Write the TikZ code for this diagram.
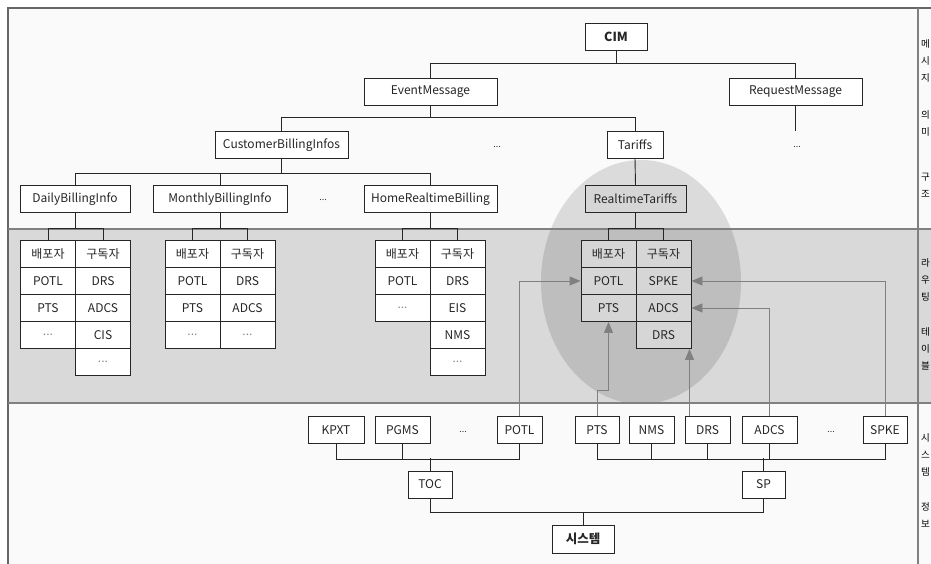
\documentclass[tikz,border=0pt]{standalone}
\usepackage{fontspec}
\setmainfont{Noto Sans CJK KR}
\usetikzlibrary{arrows.meta}
\newcommand{\nd}{\textcolor{black!45}{...}}

\begin{document}
\begin{tikzpicture}[x=1pt,y=-1pt,
  box/.style={draw=black!85,fill=white,line width=0.9pt,minimum height=27pt,
    inner sep=0pt,text=black!85,font=\fontsize{12}{14}\selectfont},
  cell/.style={box,minimum width=55pt},
  rcell/.style={cell,fill=black!16},
  link/.style={draw=black!85,line width=0.9pt},
  arr/.style={draw=black!50,line width=0.9pt,-{Triangle[length=11pt,width=9pt]}},
  dots/.style={font=\fontsize{9}{10}\selectfont,text=black!80},
  side/.style={font=\fontsize{9.5}{11}\selectfont,text=black,inner sep=0pt}]
\clip (0,0) rectangle (931,564);

% panels
\fill[white!98!black] (8,8) rectangle (931,564);
\fill[black!15] (8,229) rectangle (931,403);
\fill[black,fill opacity=0.12] (641,282) ellipse [x radius=100,y radius=122];
\draw[black!60,line width=1.3pt] (8,564) -- (8,8) -- (931,8);
\draw[black!50,line width=1.3pt] (8,229) -- (931,229) (8,403) -- (931,403) (918,8) -- (918,564);

% side column
\foreach \c/\y [count=\i] in {메/44,시/61,지/78,의/115,미/132,구/177,조/194,
    라/263,우/280,팅/297,테/332,이/349,블/366,
    시/438,스/455,템/472,정/507,보/524}
  \node[side] (side\i) at (925.5,\y) {\c};

% message tree
\node[box,minimum width=62pt,font=\fontsize{12.5}{14}\selectfont\bfseries] (cim) at (616,36.5) {CIM};
\node[box,minimum width=133pt] (event) at (430.5,91.5) {EventMessage};
\node[box,minimum width=133pt] (request) at (795.5,91.5) {RequestMessage};
\node[box,minimum width=133pt] (custbill) at (281.5,145) {CustomerBillingInfos};
\node[dots] (dotsA) at (497,147) {...};
\node[box,minimum width=56pt] (tariffs) at (635,144.5) {Tariffs};
\node[dots] (dotsB) at (797,147) {...};
\node[box,minimum width=110pt] (daily) at (75,199) {DailyBillingInfo};
\node[box,minimum width=134pt] (monthly) at (220,199) {MonthlyBillingInfo};
\node[dots] (dotsC) at (323,200) {...};
\node[box,minimum width=133pt] (home) at (430.5,199) {HomeRealtimeBilling};
\node[box,minimum width=101pt,fill=black!16] (rtariffs) at (635.5,199) {RealtimeTariffs};

\draw[link] (cim.south) -- ++(0,13) coordinate (c1);
\draw[link] (event.north) |- (c1) -| (request.north);
\draw[link] (request.south) -- ++(0,26);
\draw[link] (event.south) -- ++(0,12) coordinate (c2);
\draw[link] (custbill.north) |- (c2) -| (tariffs.north);
\draw[link] (custbill.south) -- ++(0,15) coordinate (c3);
\draw[link] (daily.north) |- (c3) -| (home.north);
\draw[link] (monthly.north) -- (monthly.north |- c3);
\draw[link] (tariffs.south) -- (rtariffs.north);

% routing tables
\foreach \t [count=\i] in {배포자,POTL,PTS,\nd}
  \node[cell] (da\i) at (48,{254+27*(\i-1)}) {\t};
\foreach \t [count=\i] in {구독자,DRS,ADCS,CIS,\nd}
  \node[cell] (db\i) at (103,{254+27*(\i-1)}) {\t};
\foreach \t [count=\i] in {배포자,POTL,PTS,\nd}
  \node[cell] (ma\i) at (192.5,{254+27*(\i-1)}) {\t};
\foreach \t [count=\i] in {구독자,DRS,ADCS,\nd}
  \node[cell] (mb\i) at (247.5,{254+27*(\i-1)}) {\t};
\foreach \t [count=\i] in {배포자,POTL,\nd}
  \node[cell] (ha\i) at (402.5,{254+27*(\i-1)}) {\t};
\foreach \t [count=\i] in {구독자,DRS,EIS,NMS,\nd}
  \node[cell] (hb\i) at (457.5,{254+27*(\i-1)}) {\t};
\foreach \t [count=\i] in {배포자,POTL,PTS}
  \node[rcell] (ra\i) at (608.5,{254+27*(\i-1)}) {\t};
\foreach \t [count=\i] in {구독자,SPKE,ADCS,DRS}
  \node[rcell] (rb\i) at (663.5,{254+27*(\i-1)}) {\t};

\draw[link] (daily.south) -- ++(0,16);
\draw[link] (da1.north) -- ++(0,-12) -| (db1.north);
\draw[link] (monthly.south) -- ++(0,16);
\draw[link] (ma1.north) -- ++(0,-12) -| (mb1.north);
\draw[link] (home.south) -- ++(0,16);
\draw[link] (ha1.north) -- ++(0,-12) -| (hb1.north);
\draw[link] (rtariffs.south) -- ++(0,16);
\draw[link] (ra1.north) -- ++(0,-12) -| (rb1.north);

% systems
\node[box,minimum width=56pt] (kpxt) at (336,430) {KPXT};
\node[box,minimum width=55pt] (pgms) at (402.5,430) {PGMS};
\node[dots] (dotsD) at (463,432) {...};
\node[box,minimum width=45pt] (potl) at (519.5,430) {POTL};
\node[box,minimum width=44pt] (pts) at (597,430) {PTS};
\node[box,minimum width=45pt] (nms) at (651.5,430) {NMS};
\node[box,minimum width=45pt] (drs) at (707.5,430) {DRS};
\node[box,minimum width=55pt] (adcs) at (769.5,430) {ADCS};
\node[dots] (dotsE) at (831,432) {...};
\node[box,minimum width=44pt] (spke) at (885,430) {SPKE};
\node[box,minimum width=44pt] (toc) at (430,484.5) {TOC};
\node[box,minimum width=43pt] (sp) at (763.5,484.5) {SP};
\node[box,minimum width=62pt,minimum height=28pt,font=\fontsize{12.5}{14}\selectfont\bfseries] (system) at (583,539) {시스템};

\draw[link] (kpxt.south) -- ++(0,15) -| (potl.south);
\draw[link] (pgms.south) -- ++(0,15);
\draw[link] (toc.north) -- ++(0,-13);
\draw[link] (pts.south) -- ++(0,15) -| (spke.south);
\draw[link] (nms.south) -- ++(0,15);
\draw[link] (drs.south) -- ++(0,15);
\draw[link] (adcs.south) -- ++(0,15);
\draw[link] (sp.north) -- ++(0,-13);
\draw[link] (toc.south) -- ++(0,14) -| (sp.south);
\draw[link] (system.north) -- ++(0,-13);

% routes
\draw[arr] (potl.north) |- (ra2.west);
\draw[arr] (pts.north) -- ++(0,-26) -| (ra3.south);
\draw[arr] ([xshift=-18pt]drs.north) -- ([xshift=-18pt]drs.north |- rb4.south);
\draw[arr] (adcs.north) |- (rb3.east);
\draw[arr] (spke.north) |- (rb2.east);
\end{tikzpicture}
\end{document}
